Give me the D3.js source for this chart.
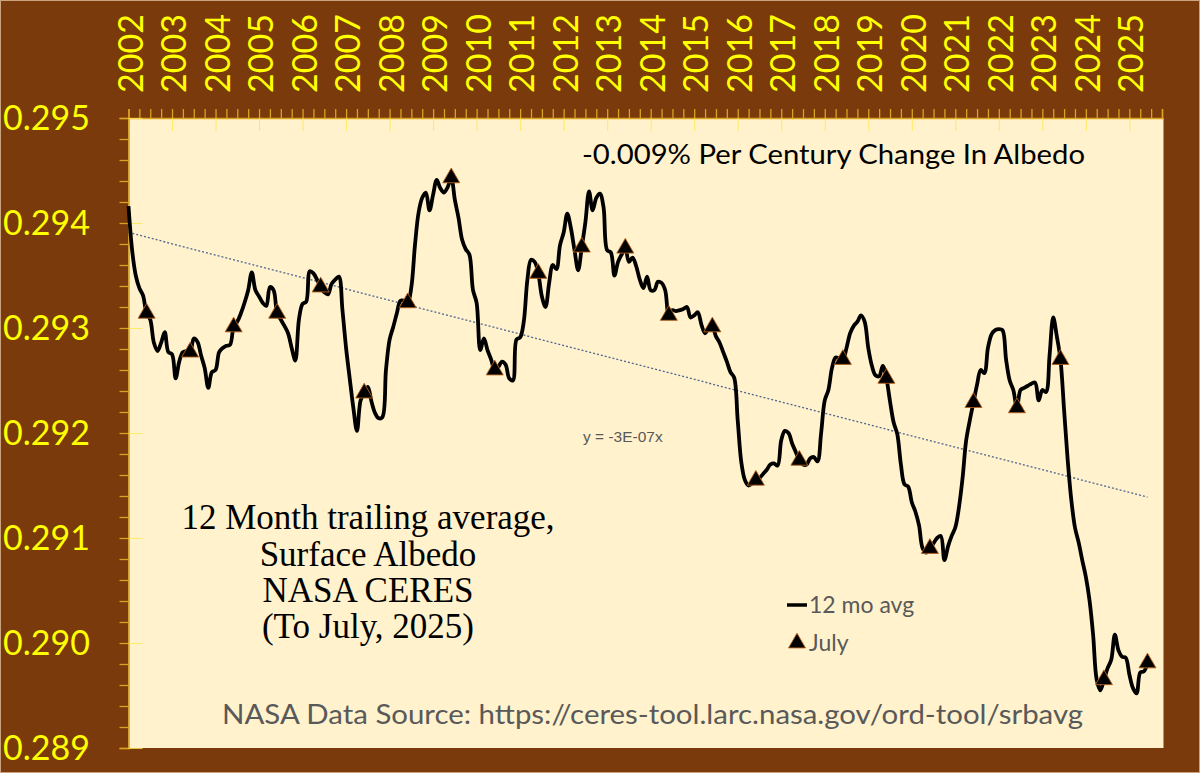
<!DOCTYPE html>
<html>
<head>
<meta charset="utf-8">
<script src="https://cdn.jsdelivr.net/npm/d3@7/dist/d3.min.js"></script>
<style>
  html, body { margin: 0; padding: 0; background: #7b3a0b; }
  svg { display: block; }
</style>
</head>
<body>
<svg id="chart" width="1200" height="773"></svg>
<script>
// ---- DATA ----
// 12-month trailing average surface albedo, monthly, first point = Feb 2002
const albedo = [
  0.29416,0.29374,0.29350,0.29338,0.29331,0.29314,0.29308,0.29286,0.29278,0.29286,0.29296,0.29277,
  0.29275,0.29252,0.29268,0.29277,0.29278,0.29277,0.29290,0.29287,0.29274,0.29262,0.29243,0.29258,
  0.29260,0.29277,0.29281,0.29283,0.29284,0.29301,0.29306,0.29314,0.29324,0.29336,0.29353,0.29336,
  0.29330,0.29324,0.29321,0.29339,0.29336,0.29314,0.29308,0.29302,0.29295,0.29281,0.29269,0.29308,
  0.29323,0.29325,0.29354,0.29352,0.29346,0.29339,0.29334,0.29332,0.29342,0.29346,0.29349,0.29317,
  0.29281,0.29252,0.29224,0.29202,0.29231,0.29238,0.29244,0.29230,0.29219,0.29214,0.29215,0.29260,
  0.29289,0.29301,0.29314,0.29326,0.29326,0.29324,0.29339,0.29379,0.29410,0.29424,0.29429,0.29412,
  0.29427,0.29441,0.29433,0.29429,0.29434,0.29443,0.29422,0.29405,0.29384,0.29375,0.29370,0.29336,
  0.29324,0.29279,0.29290,0.29279,0.29270,0.29260,0.29263,0.29268,0.29265,0.29252,0.29250,0.29289,
  0.29291,0.29306,0.29346,0.29365,0.29363,0.29352,0.29330,0.29320,0.29343,0.29360,0.29356,0.29379,
  0.29391,0.29409,0.29395,0.29374,0.29355,0.29377,0.29401,0.29430,0.29412,0.29424,0.29428,0.29415,
  0.29374,0.29372,0.29350,0.29363,0.29370,0.29376,0.29363,0.29367,0.29359,0.29346,0.29338,0.29349,
  0.29336,0.29336,0.29344,0.29343,0.29336,0.29312,0.29317,0.29316,0.29317,0.29318,0.29320,0.29310,
  0.29312,0.29315,0.29303,0.29295,0.29300,0.29301,0.29292,0.29286,0.29277,0.29268,0.29258,0.29253,
  0.29212,0.29172,0.29155,0.29150,0.29152,0.29155,0.29157,0.29161,0.29165,0.29170,0.29171,0.29169,
  0.29193,0.29202,0.29200,0.29190,0.29182,0.29174,0.29170,0.29170,0.29176,0.29177,0.29173,0.29200,
  0.29231,0.29241,0.29262,0.29272,0.29271,0.29270,0.29281,0.29295,0.29302,0.29306,0.29312,0.29306,
  0.29281,0.29264,0.29255,0.29254,0.29264,0.29252,0.29230,0.29210,0.29199,0.29170,0.29151,0.29149,
  0.29134,0.29125,0.29112,0.29090,0.29086,0.29090,0.29095,0.29100,0.29102,0.29079,0.29092,0.29102,
  0.29110,0.29129,0.29157,0.29193,0.29212,0.29229,0.29246,0.29260,0.29257,0.29281,0.29294,0.29298,
  0.29299,0.29298,0.29270,0.29250,0.29241,0.29224,0.29241,0.29243,0.29245,0.29247,0.29248,0.29231,
  0.29241,0.29239,0.29274,0.29310,0.29292,0.29270,0.29222,0.29174,0.29136,0.29110,0.29096,0.29079,
  0.29063,0.29041,0.29008,0.28965,0.28955,0.28965,0.28976,0.28984,0.29008,0.28993,0.28987,0.28986,
  0.28970,0.28957,0.28952,0.28972,0.28973,0.28981
];
const yearLabels = ["2002","2003","2004","2005","2006","2007","2008","2009","2010","2011","2012","2013",
  "2014","2015","2016","2017","2018","2019","2020","2021","2022","2023","2024","2025"];
const yTickValues = [0.289, 0.290, 0.291, 0.292, 0.293, 0.294, 0.295];
const trendValues = [0.29391, 0.29139];   // linear trendline at first and last month
const julyOffset = 5;          // July is the 6th point of each year (series starts in Feb)
const axisMonths = 285;        // category axis length in months
const titleLines = ["12 Month trailing average,", "Surface Albedo", "NASA CERES", "(To July, 2025)"];
const changeText = "-0.009% Per Century Change In Albedo";
const eqText = "y = -3E-07x";
const sourceText = "NASA Data Source: https://ceres-tool.larc.nasa.gov/ord-tool/srbavg";
const legendItems = ["12 mo avg", "July"];

// ---- LAYOUT ----
const W = 1200, H = 773;
const plot = { left: 128.5, top: 118, right: 1163.5, bottom: 748 };
const brown = "#7b3a0b", cream = "#fff2cc", gold = "#d9a21f", yellow = "#ffff00";

const svg = d3.select("#chart");
svg.append("rect").attr("width", W).attr("height", H).attr("fill", brown)
  .attr("stroke", "#c9a47e").attr("stroke-width", 2);

const x = d3.scaleLinear().domain([0, axisMonths]).range([plot.left, plot.right - 1.5]);
const y = d3.scaleLinear().domain([0.289, 0.295]).range([plot.bottom, plot.top]);

svg.append("rect")
  .attr("x", plot.left).attr("y", plot.top)
  .attr("width", plot.right - plot.left).attr("height", plot.bottom - plot.top)
  .attr("fill", cream);

// ---- AXES ----
const quarterTicks = d3.range(0, axisMonths + 1, 3);
const topMinor = svg.append("g").attr("transform", `translate(0,${plot.top})`)
  .call(d3.axisTop(x).tickValues(quarterTicks).tickSize(9).tickFormat(""));
topMinor.selectAll("line").attr("stroke", gold).attr("stroke-width", 1.3);
topMinor.select(".domain").attr("stroke", gold).attr("stroke-width", 1.5);

const yearTicks = yearLabels.map((_, i) => i * 12);
const topMajorIn = svg.append("g").attr("transform", `translate(0,${plot.top})`)
  .call(d3.axisBottom(x).tickValues(yearTicks).tickSize(13).tickFormat(""));
topMajorIn.selectAll("line").attr("stroke", "#ffe84a").attr("stroke-width", 1).attr("opacity", 0.8);
topMajorIn.select(".domain").remove();

svg.append("g").selectAll("text").data(yearLabels).join("text")
  .attr("transform", (d, i) => `translate(${x(i * 12) + 14},93) rotate(-90)`)
  .attr("font-family", "Lato, 'Open Sans', sans-serif")
  .attr("font-size", 34)
  .attr("fill", yellow)
  .text(d => d);

const yMinor = d3.range(0, 31).map(i => 0.289 + i * 0.0002);
const leftMinor = svg.append("g").attr("transform", `translate(${plot.left},0)`)
  .call(d3.axisLeft(y).tickValues(yMinor).tickSize(9).tickFormat(""));
leftMinor.selectAll("line").attr("stroke", gold).attr("stroke-width", 1.3);
leftMinor.select(".domain").attr("stroke", gold).attr("stroke-width", 1.5);

const leftMajorIn = svg.append("g").attr("transform", `translate(${plot.left},0)`)
  .call(d3.axisRight(y).tickValues(yTickValues).tickSize(14).tickFormat(""));
leftMajorIn.selectAll("line").attr("stroke", "#ffe84a").attr("stroke-width", 1).attr("opacity", 0.8);
leftMajorIn.select(".domain").remove();

svg.append("g").selectAll("text").data(yTickValues).join("text")
  .attr("x", 90).attr("y", d => y(d)).attr("dy", "0.36em")
  .attr("text-anchor", "end")
  .attr("font-family", "Lato, 'Open Sans', sans-serif")
  .attr("font-size", 34)
  .attr("fill", yellow)
  .text(d => d3.format(".3f")(d));

// ---- TRENDLINE ----
const n = albedo.length;
svg.append("line")
  .attr("x1", x(0)).attr("y1", y(trendValues[0]))
  .attr("x2", x(n - 1)).attr("y2", y(trendValues[1]))
  .attr("stroke", "#4f6592").attr("stroke-width", 1.3)
  .attr("stroke-dasharray", "2,2");

// ---- LINE ----
const line = d3.line().x((d, i) => x(i)).y(d => y(d)).curve(d3.curveCatmullRom.alpha(0.5));
svg.append("path").datum(albedo)
  .attr("d", line).attr("fill", "none")
  .attr("stroke", "#000").attr("stroke-width", 3.8)
  .attr("stroke-linejoin", "round");

// ---- JULY MARKERS ----
const julyIdx = d3.range(julyOffset, n, 12);
const tri = d3.symbol().type(d3.symbolTriangle).size(125);
svg.append("g").selectAll("path").data(julyIdx).join("path")
  .attr("d", tri)
  .attr("transform", i => `translate(${x(i)},${y(albedo[i])})`)
  .attr("fill", "#000").attr("stroke", "#b5601e").attr("stroke-width", 0.9);

// ---- TEXTS ----
svg.append("text").attr("x", 582).attr("y", 164)
  .attr("font-family", "Lato, 'Open Sans', sans-serif").attr("font-size", 27)
  .attr("fill", "#000").attr("textLength", 503).attr("lengthAdjust", "spacingAndGlyphs")
  .text(changeText);

svg.append("text").attr("x", 583).attr("y", 442)
  .attr("font-family", "'Liberation Sans', Arial, sans-serif").attr("font-size", 15.5)
  .attr("fill", "#595959")
  .text(eqText);

const title = svg.append("text")
  .attr("font-family", "'Liberation Serif', 'DejaVu Serif', serif")
  .attr("font-size", 35).attr("fill", "#000").attr("text-anchor", "middle");
const titleBase = [529, 566, 602, 638];
titleLines.forEach((t, i) => {
  title.append("tspan").attr("x", 368).attr("y", titleBase[i]).text(t);
});

// legend
svg.append("line").attr("x1", 787).attr("x2", 807).attr("y1", 605).attr("y2", 605)
  .attr("stroke", "#000").attr("stroke-width", 3.5);
svg.append("path").attr("d", tri).attr("transform", "translate(797,643)")
  .attr("fill", "#000").attr("stroke", "#b5601e").attr("stroke-width", 0.9);
svg.append("g").selectAll("text").data(legendItems).join("text")
  .attr("x", 809).attr("y", (d, i) => 613 + i * 38)
  .attr("font-family", "Lato, 'Open Sans', sans-serif").attr("font-size", 23)
  .attr("fill", "#595959")
  .text(d => d);

svg.append("text").attr("x", 222).attr("y", 724)
  .attr("font-family", "Lato, 'Open Sans', sans-serif").attr("font-size", 27)
  .attr("fill", "#595959").attr("textLength", 861).attr("lengthAdjust", "spacingAndGlyphs")
  .text(sourceText);
</script>
</body>
</html>
